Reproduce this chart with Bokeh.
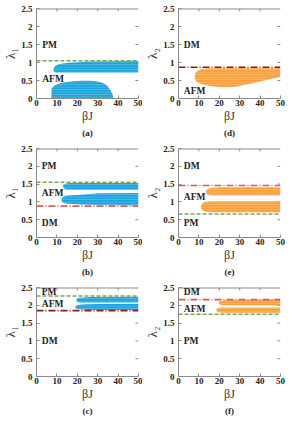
from bokeh.plotting import figure
from bokeh.layouts import column, row
from bokeh.models import FixedTicker, LinearAxis, Range1d
from bokeh.core.properties import value
from bokeh.embed import file_html
from bokeh.resources import INLINE

x_ticks = [0, 10, 20, 30, 40, 50]
x_tick_labels = ["0", "10", "20", "30", "40", "50"]
y_ticks = [0, 0.5, 1, 1.5, 2, 2.5]
y_tick_labels = ["0", "0.5", "1", "1.5", "2", "2.5"]

# ---- panel (a): lambda_1, blue AFM regions
a_r1_x = [7.3, 7.4, 8.0, 9.0, 10.5, 12, 15, 18, 22, 26, 29, 31, 32.5, 33.5, 35, 36.3, 37.2, 37.8]
a_r1_lo = [0] * 18
a_r1_hi = [0.0, 0.27, 0.32, 0.36, 0.40, 0.43, 0.46, 0.48, 0.49, 0.49, 0.48, 0.46, 0.43, 0.40, 0.33, 0.22, 0.12, 0.0]
a_r2_x = [8.3, 8.6, 9.5, 11, 13, 16, 20, 25, 50]
a_r2_lo = [0.79, 0.74, 0.72, 0.72, 0.72, 0.72, 0.72, 0.72, 0.72]
a_r2_hi = [0.79, 0.86, 0.92, 0.95, 0.97, 0.99, 1.01, 1.03, 1.04]
a_pm_line = 1.05

# ---- panel (d): lambda_2, orange AFM region
d_r1_x = [7.9, 8.2, 9, 10.5, 12, 14, 16, 18, 20, 22, 25, 27, 30, 35, 40, 45, 50]
d_r1_lo = [0.61, 0.52, 0.46, 0.42, 0.39, 0.36, 0.34, 0.33, 0.32, 0.32, 0.32, 0.32, 0.35, 0.41, 0.47, 0.54, 0.60]
d_r1_hi = [0.61, 0.70, 0.76, 0.80, 0.82, 0.83, 0.84, 0.84, 0.84, 0.84, 0.84, 0.84, 0.84, 0.84, 0.84, 0.84, 0.84]
d_dm_line = 0.87

# ---- panel (b)
b_r1_x = [13, 13.4, 14.5, 16, 18, 22, 50]
b_r1_lo = [1.44, 1.38, 1.35, 1.34, 1.34, 1.34, 1.34]
b_r1_hi = [1.44, 1.49, 1.52, 1.53, 1.53, 1.53, 1.53]
b_r2_x = [12.2, 12.6, 13.5, 15, 18, 22, 26, 30, 50]
b_r2_lo = [1.06, 1.00, 0.97, 0.95, 0.94, 0.93, 0.92, 0.91, 0.90]
b_r2_hi = [1.06, 1.12, 1.16, 1.18, 1.19, 1.20, 1.22, 1.24, 1.25]
b_pm_line = 1.55
b_dm_line = 0.88

# ---- panel (e)
e_r1_x = [13.5, 13.9, 15, 17, 20, 25, 50]
e_r1_lo = [1.29, 1.22, 1.19, 1.18, 1.18, 1.18, 1.18]
e_r1_hi = [1.29, 1.35, 1.38, 1.40, 1.41, 1.41, 1.41]
e_r2_x = [11, 11.4, 12.5, 14, 17, 20, 25, 50]
e_r2_lo = [0.87, 0.78, 0.74, 0.72, 0.71, 0.71, 0.71, 0.71]
e_r2_hi = [0.87, 0.95, 0.99, 1.01, 1.02, 1.02, 1.02, 1.02]
e_dm_line = 1.46
e_pm_line = 0.66

# ---- panel (c)
c_r1_x = [19.5, 19.9, 21, 23, 26, 50]
c_r1_lo = [2.14, 2.10, 2.08, 2.08, 2.08, 2.08]
c_r1_hi = [2.14, 2.19, 2.21, 2.22, 2.23, 2.24]
c_r2_x = [19, 19.4, 20.5, 22, 25, 30, 50]
c_r2_lo = [1.95, 1.91, 1.89, 1.88, 1.87, 1.87, 1.87]
c_r2_hi = [1.95, 1.99, 2.01, 2.02, 2.03, 2.04, 2.04]
c_pm_line = 2.26
c_dm_line = 1.85

# ---- panel (f)
f_r1_x = [19.6, 20, 21, 23, 26, 50]
f_r1_lo = [2.07, 2.03, 2.01, 2.00, 2.00, 2.00]
f_r1_hi = [2.07, 2.11, 2.13, 2.14, 2.15, 2.16]
f_r2_x = [18.5, 18.9, 20, 22, 25, 50]
f_r2_lo = [1.87, 1.82, 1.80, 1.79, 1.79, 1.79]
f_r2_hi = [1.87, 1.91, 1.93, 1.94, 1.94, 1.94]
f_dm_line = 2.16
f_pm_line = 1.75

BLUE = "#1BA3DD"
ORANGE = "#F9A03C"
GREEN = "#7BA65A"
DARKRED = "#8E1B1B"
LIGHTRED = "#D4605E"
SERIF = "Liberation Serif"
AXIS_GRAY = "#8A8A8A"


def make_panel(fh, left, right, bottom, ylabel, caption,
               regions, color, hlines, labels, label_x):
    p = figure(frame_width=102, frame_height=fh, output_backend="svg",
               toolbar_location=None, x_range=Range1d(0, 50), y_range=Range1d(0, 2.5),
               min_border_left=left, min_border_right=right,
               min_border_top=8, min_border_bottom=bottom)
    p.grid.visible = False
    p.outline_line_color = None
    p.background_fill_color = "white"
    p.border_fill_color = "white"

    for ax, ticks, labs in ((p.xaxis[0], x_ticks, x_tick_labels),
                            (p.yaxis[0], y_ticks, y_tick_labels)):
        ax.ticker = FixedTicker(ticks=ticks)
        ax.major_label_overrides = {t: l for t, l in zip(ticks, labs)}
        ax.major_label_text_font = SERIF
        ax.major_label_text_font_style = "bold"
        ax.major_label_text_font_size = "9px"
        ax.major_label_text_color = "#222222"
        ax.axis_line_color = AXIS_GRAY
        ax.major_tick_line_color = AXIS_GRAY
        ax.major_tick_in = 3
        ax.major_tick_out = 0
        ax.minor_tick_line_color = None
        ax.axis_label_text_font = SERIF
        ax.axis_label_text_font_style = "normal"
        ax.axis_label_text_color = "#333333"
        ax.axis_label_standoff = 0
    p.xaxis.axis_label = "βJ"
    p.xaxis.axis_label_text_font_size = "12px"
    p.xaxis.major_label_standoff = 1
    p.yaxis.axis_label = ylabel
    p.yaxis.axis_label_text_font_size = "13px"
    p.yaxis.major_label_standoff = 4

    # caption "(a)" etc. as a second axis below
    cap = LinearAxis(ticker=FixedTicker(ticks=[25]),
                     major_label_overrides={25: caption},
                     major_label_text_font=SERIF, major_label_text_font_style="bold",
                     major_label_text_font_size="9px", major_label_text_color="#222222",
                     major_label_standoff=2, axis_line_color=None,
                     major_tick_in=0, major_tick_out=0,
                     major_tick_line_color=None, minor_tick_line_color=None)
    p.add_layout(cap, "below")

    # top border with inner ticks, and right inner ticks
    p.line(x=[0, 50], y=[2.5, 2.5], line_color=AXIS_GRAY, line_width=2)
    p.segment(x0=x_ticks[1:-1], y0=[2.5] * 4, x1=x_ticks[1:-1], y1=[2.42] * 4,
              line_color=AXIS_GRAY, line_width=1)
    p.segment(x0=[50] * 4, y0=y_ticks[1:-1], x1=[48.5] * 4, y1=y_ticks[1:-1],
              line_color=AXIS_GRAY, line_width=1)

    for xs, lo, hi in regions:
        p.varea(x=xs, y1=lo, y2=hi, fill_color=color,
                hatch_pattern="horizontal_line", hatch_color="white",
                hatch_scale=2.5, hatch_weight=0.6, hatch_alpha=0.45)

    for yv, lcolor, dash in hlines:
        p.line(x=[0, 50], y=[yv, yv], line_color=lcolor, line_width=1.6, line_dash=dash)

    for txt, yv in labels:
        p.text(x=[label_x], y=[yv], text=[txt], text_font=value(SERIF),
               text_font_style="bold", text_font_size="9.5px", text_color="#222222",
               text_align="left", text_baseline="middle")
    return p


DASH = "4 2"
DASHDOT = "7 2 1 2"

pa = make_panel(90, 30, 4, 42, "λ₁", "(a)",
                [(a_r1_x, a_r1_lo, a_r1_hi), (a_r2_x, a_r2_lo, a_r2_hi)], BLUE,
                [(a_pm_line, GREEN, DASH)],
                [("PM", 1.49), ("AFM", 0.55)], 2.8)
pd_ = make_panel(90, 34, 8, 42, "λ₂", "(d)",
                 [(d_r1_x, d_r1_lo, d_r1_hi)], ORANGE,
                 [(d_dm_line, DARKRED, DASHDOT)],
                 [("DM", 1.49), ("AFM", 0.21)], 2.6)
pb = make_panel(89, 30, 4, 42, "λ₁", "(b)",
                [(b_r1_x, b_r1_lo, b_r1_hi), (b_r2_x, b_r2_lo, b_r2_hi)], BLUE,
                [(b_pm_line, GREEN, DASH), (b_dm_line, LIGHTRED, DASHDOT)],
                [("PM", 2.02), ("AFM", 1.25), ("DM", 0.41)], 2.6)
pe = make_panel(89, 34, 8, 42, "λ₂", "(e)",
                [(e_r1_x, e_r1_lo, e_r1_hi), (e_r2_x, e_r2_lo, e_r2_hi)], ORANGE,
                [(e_dm_line, LIGHTRED, DASHDOT), (e_pm_line, GREEN, DASH)],
                [("DM", 2.02), ("AFM", 1.13), ("PM", 0.41)], 2.6)
pc = make_panel(89, 30, 4, 34, "λ₁", "(c)",
                [(c_r1_x, c_r1_lo, c_r1_hi), (c_r2_x, c_r2_lo, c_r2_hi)], BLUE,
                [(c_pm_line, GREEN, DASH), (c_dm_line, DARKRED, DASHDOT)],
                [("PM", 2.38), ("AFM", 2.03), ("DM", 1.0)], 2.6)
pf = make_panel(89, 34, 8, 34, "λ₂", "(f)",
                [(f_r1_x, f_r1_lo, f_r1_hi), (f_r2_x, f_r2_lo, f_r2_hi)], ORANGE,
                [(f_dm_line, LIGHTRED, DASHDOT), (f_pm_line, GREEN, DASH)],
                [("DM", 2.37), ("AFM", 1.9), ("PM", 1.0)], 2.6)

layout = column(row(pa, pd_), row(pb, pe), row(pc, pf))
open("out.html", "w").write(file_html(layout, INLINE))
